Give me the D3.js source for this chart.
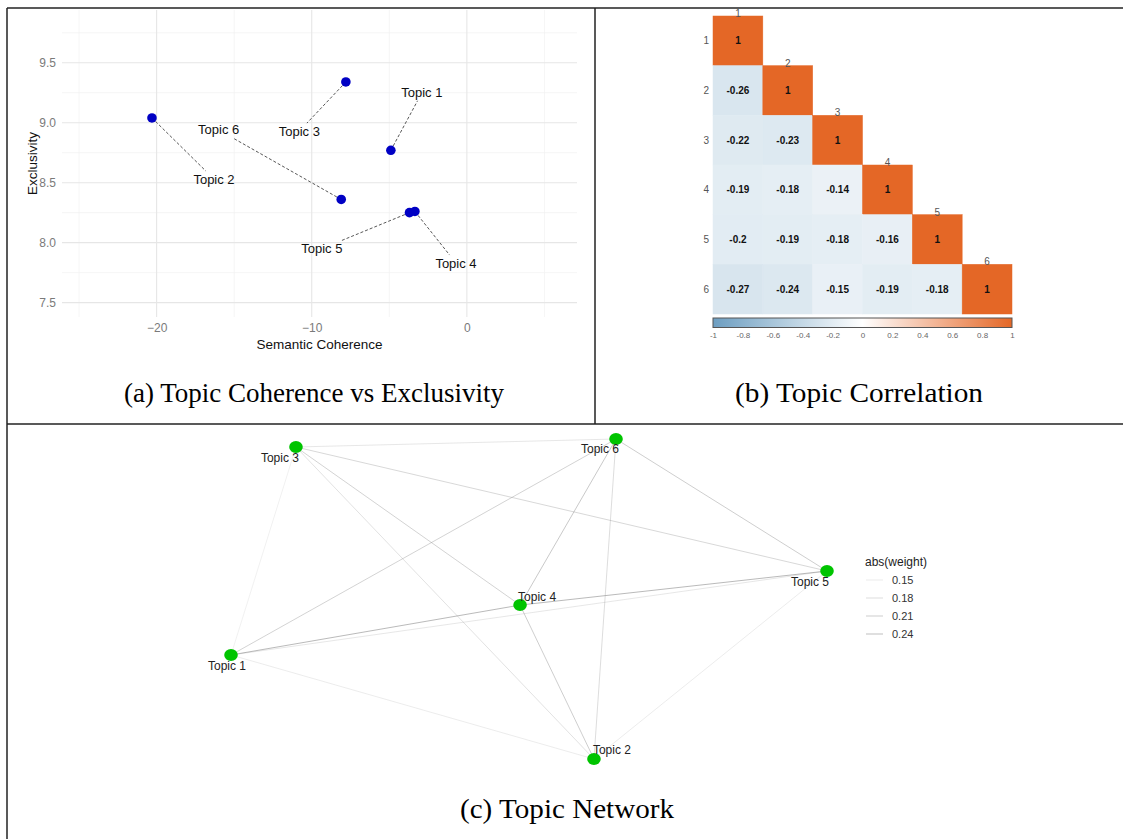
<!DOCTYPE html>
<html><head><meta charset="utf-8">
<script src="https://cdn.jsdelivr.net/npm/d3@7"></script>
<style>body{margin:0;background:#fff}svg{display:block}</style>
</head><body><svg id="c" width="1123" height="839"></svg>
<script>
// ---------- DATA ----------
const topics = ["Topic 1","Topic 2","Topic 3","Topic 4","Topic 5","Topic 6"];
const coherence = [-4.9, -20.3, -7.8, -3.35, -3.7, -8.1];
const exclusivity = [8.77, 9.04, 9.34, 8.26, 8.25, 8.36];
const labelCoherence = [-2.9, -16.3, -10.8, -0.7, -9.35, -16.0];
const labelExclusivity = [9.25, 8.53, 8.93, 7.83, 7.95, 8.94];
const xTicks = [-20, -10, 0];
const xMinor = [-25, -15, -5, 5];
const yTicks = [7.5, 8.0, 8.5, 9.0, 9.5];
const yMinor = [7.75, 8.25, 8.75, 9.25, 9.75];

const corrLabels = ["1","2","3","4","5","6"];
const corrRows = [
  [1],
  [-0.26, 1],
  [-0.22, -0.23, 1],
  [-0.19, -0.18, -0.14, 1],
  [-0.2, -0.19, -0.18, -0.16, 1],
  [-0.27, -0.24, -0.15, -0.19, -0.18, 1]
];
const corrLegendTicks = [-1,-0.8,-0.6,-0.4,-0.2,0,0.2,0.4,0.6,0.8,1];

const layoutX = [0, 0.609, 0.109, 0.485, 1.0, 0.646];
const layoutY = [0.325, 0, 0.975, 0.481, 0.5875, 1.0];
const edgeFrom = [1,1,1,1,1,2,2,2,2,3,3,3,4,4,5];
const edgeTo   = [2,3,4,5,6,3,4,5,6,4,5,6,5,6,6];
const edgeWeight = [0.15,0.14,0.25,0.16,0.20,0.17,0.21,0.15,0.18,0.20,0.19,0.16,0.25,0.22,0.21];
const weightLegend = [0.15, 0.18, 0.21, 0.24];

// ---------- SETUP ----------
const svg = d3.select("#c");
svg.append("rect").attr("width",1123).attr("height",839).attr("fill","#fff");
const sans = "Liberation Sans, Arial, sans-serif";
const serif = "Liberation Serif, Times New Roman, serif";

// ---------- PANEL A ----------
const x = d3.scaleLinear().domain([-26.1, 7.1]).range([62, 577]);
const y = d3.scaleLinear().domain([7.38, 9.94]).range([317, 10]);
const ga = svg.append("g");
ga.selectAll(".vmin").data(xMinor).join("line")
  .attr("x1",d=>x(d)).attr("x2",d=>x(d)).attr("y1",y.range()[1]).attr("y2",y.range()[0])
  .attr("stroke","#F0F0F0").attr("stroke-width",0.7);
ga.selectAll(".hmin").data(yMinor).join("line")
  .attr("x1",x.range()[0]).attr("x2",x.range()[1]).attr("y1",d=>y(d)).attr("y2",d=>y(d))
  .attr("stroke","#F0F0F0").attr("stroke-width",0.7);
ga.selectAll(".vmaj").data(xTicks).join("line")
  .attr("x1",d=>x(d)).attr("x2",d=>x(d)).attr("y1",y.range()[1]).attr("y2",y.range()[0])
  .attr("stroke","#E6E6E6").attr("stroke-width",1.1);
ga.selectAll(".hmaj").data(yTicks).join("line")
  .attr("x1",x.range()[0]).attr("x2",x.range()[1]).attr("y1",d=>y(d)).attr("y2",d=>y(d))
  .attr("stroke","#E6E6E6").attr("stroke-width",1.1);
const xAxis = ga.append("g").attr("transform",`translate(0,${y.range()[0]})`)
  .call(d3.axisBottom(x).tickValues(xTicks).tickSize(0).tickPadding(6).tickFormat(d3.format("d")));
const yAxis = ga.append("g").attr("transform",`translate(${x.range()[0]},0)`)
  .call(d3.axisLeft(y).tickValues(yTicks).tickSize(0).tickPadding(6).tickFormat(d3.format(".1f")));
[xAxis,yAxis].forEach(a=>{a.select(".domain").remove();
  a.selectAll("text").attr("fill","#7a7a7a").style("font-family",sans).style("font-size","12px");});
ga.append("text").attr("x",(x.range()[0]+x.range()[1])/2).attr("y",349).attr("text-anchor","middle")
  .style("font-family",sans).style("font-size","13.5px").attr("fill","#111").text("Semantic Coherence");
ga.append("text").attr("transform",`translate(37,${(y.range()[0]+y.range()[1])/2}) rotate(-90)`)
  .attr("text-anchor","middle").style("font-family",sans).style("font-size","13.5px").attr("fill","#111").text("Exclusivity");

const pts = topics.map((t,i)=>({t, px:x(coherence[i]), py:y(exclusivity[i]), lx:x(labelCoherence[i]), ly:y(labelExclusivity[i])}));
pts.forEach(p=>{
  const dx=p.px-p.lx, dy=p.py-p.ly, w=29, h=8;
  const tc=Math.min(w/Math.abs(dx||1e-6), h/Math.abs(dy||1e-6));
  p.ex=p.lx+dx*Math.min(tc,1); p.ey=p.ly+dy*Math.min(tc,1);
});
ga.selectAll(".seg").data(pts).join("line")
  .attr("x1",d=>d.px).attr("y1",d=>d.py).attr("x2",d=>d.ex).attr("y2",d=>d.ey)
  .attr("stroke","#444").attr("stroke-width",0.9).attr("stroke-dasharray","3,2");
ga.selectAll(".pt").data(pts).join("circle")
  .attr("cx",d=>d.px).attr("cy",d=>d.py).attr("r",4.8).attr("fill","#0000C4");
ga.selectAll(".lab").data(pts).join("text")
  .attr("x",d=>d.lx).attr("y",d=>d.ly+4.5).attr("text-anchor","middle")
  .style("font-family",sans).style("font-size","13px").attr("fill","#111").text(d=>d.t);

// ---------- PANEL B ----------
const gb = svg.append("g");
const bx = d3.scaleBand().domain(corrLabels).range([713, 1012]);
const by = d3.scaleBand().domain(corrLabels).range([16, 314]);
const col = d3.scaleLinear().domain([-1,0,1]).range(["#6D9EC1","#FFFFFF","#E46726"]);
const cells = [];
corrRows.forEach((row,r)=>row.forEach((v,c)=>cells.push({r:corrLabels[r], c:corrLabels[c], v})));
gb.selectAll(".cell").data(cells).join("rect")
  .attr("x",d=>bx(d.c)).attr("y",d=>by(d.r)).attr("width",bx.bandwidth()).attr("height",by.bandwidth())
  .attr("fill",d=>col(d.v)).attr("stroke",d=>col(d.v)).attr("stroke-width",0.5);
gb.selectAll(".cv").data(cells).join("text")
  .attr("x",d=>bx(d.c)+bx.bandwidth()/2).attr("y",d=>by(d.r)+by.bandwidth()/2+3.5)
  .attr("text-anchor","middle").style("font-family",sans).style("font-size","10px").style("font-weight","bold")
  .attr("fill","#111").text(d=>String(d.v));
gb.selectAll(".rl").data(corrLabels).join("text")
  .attr("x",709).attr("y",d=>by(d)+by.bandwidth()/2+3.5).attr("text-anchor","end")
  .style("font-family",sans).style("font-size","10px").attr("fill","#555").text(d=>d);
gb.selectAll(".cl").data(corrLabels).join("text")
  .attr("x",d=>bx(d)+bx.bandwidth()/2).attr("y",d=>by(d)+1).attr("text-anchor","middle")
  .style("font-family",sans).style("font-size","10px").attr("fill","#555").text(d=>d);
const lx = d3.scaleLinear().domain([-1,1]).range([713,1012]);
const defs = svg.append("defs");
const grad = defs.append("linearGradient").attr("id","cg");
[-1,-0.5,0,0.5,1].forEach(v=>grad.append("stop").attr("offset",((v+1)/2*100)+"%").attr("stop-color",col(v)));
gb.append("rect").attr("x",lx(-1)).attr("y",318).attr("width",lx(1)-lx(-1)).attr("height",9.5)
  .attr("fill","url(#cg)").attr("stroke","#555").attr("stroke-width",1);
const lAxis = gb.append("g").attr("transform","translate(0,327.5)")
  .call(d3.axisBottom(lx).tickValues(corrLegendTicks).tickSize(0).tickPadding(5).tickFormat(d=>String(+d.toFixed(1))));
lAxis.select(".domain").remove();
lAxis.selectAll("text").style("font-family",sans).style("font-size","8px").attr("fill","#666");

// ---------- PANEL C ----------
const gc = svg.append("g");
const nx = d3.scaleLinear().domain([0,1]).range([231, 827]);
const ny = d3.scaleLinear().domain([0,1]).range([759, 439]);
const nodes = topics.map((t,i)=>({t, x:nx(layoutX[i]), y:ny(layoutY[i])}));
const edges = edgeFrom.map((f,i)=>({a:nodes[f-1], b:nodes[edgeTo[i]-1], w:edgeWeight[i]}));
const op = d3.scaleLinear().domain([0.14, 0.25]).range([0.12, 0.6]);
gc.selectAll(".e").data(edges).join("line")
  .attr("x1",d=>d.a.x).attr("y1",d=>d.a.y).attr("x2",d=>d.b.x).attr("y2",d=>d.b.y)
  .attr("stroke","#8c8c8c").attr("stroke-opacity",d=>op(d.w)).attr("stroke-width",1);
gc.selectAll(".n").data(nodes).join("ellipse")
  .attr("cx",d=>d.x).attr("cy",d=>d.y).attr("rx",6.8).attr("ry",6).attr("fill","#00C400");
const labOff = [[-4,15],[18,-5],[-16,15],[17,-4],[-17,15],[-16,14]];
gc.selectAll(".nl").data(nodes).join("text")
  .attr("x",(d,i)=>d.x+labOff[i][0]).attr("y",(d,i)=>d.y+labOff[i][1]).attr("text-anchor","middle")
  .style("font-family",sans).style("font-size","12px").attr("fill","#222").text(d=>d.t);
gc.append("text").attr("x",865).attr("y",566).style("font-family",sans).style("font-size","12px")
  .attr("fill","#222").text("abs(weight)");
const leg = gc.selectAll(".lg").data(weightLegend).join("g")
  .attr("transform",(d,i)=>`translate(0,${580+i*18})`);
leg.append("line").attr("x1",866).attr("x2",883).attr("y1",0).attr("y2",0)
  .attr("stroke","#8c8c8c").attr("stroke-opacity",d=>op(d)).attr("stroke-width",1);
leg.append("text").attr("x",892).attr("y",4).style("font-family",sans).style("font-size","11px")
  .attr("fill","#333").text(d=>d.toFixed(2));

// ---------- CAPTIONS & FRAME ----------
const caps = [["(a) Topic Coherence vs Exclusivity",314,402,380],["(b) Topic Correlation",859,402,248],["(c) Topic Network",567,818,214]];
svg.selectAll(".cap").data(caps).join("text")
  .attr("x",d=>d[1]).attr("y",d=>d[2]).attr("text-anchor","middle")
  .attr("textLength",d=>d[3]).attr("lengthAdjust","spacingAndGlyphs")
  .style("font-family",serif).style("font-size","27px").attr("fill","#000").text(d=>d[0]);
const fr = svg.append("g").attr("stroke","#222").attr("stroke-width",1.5);
fr.append("line").attr("x1",7).attr("x2",1123).attr("y1",8).attr("y2",8);
fr.append("line").attr("x1",7).attr("x2",7).attr("y1",8).attr("y2",839);
fr.append("line").attr("x1",7).attr("x2",1123).attr("y1",424).attr("y2",424);
fr.append("line").attr("x1",595).attr("x2",595).attr("y1",8).attr("y2",424);
</script></body></html>
